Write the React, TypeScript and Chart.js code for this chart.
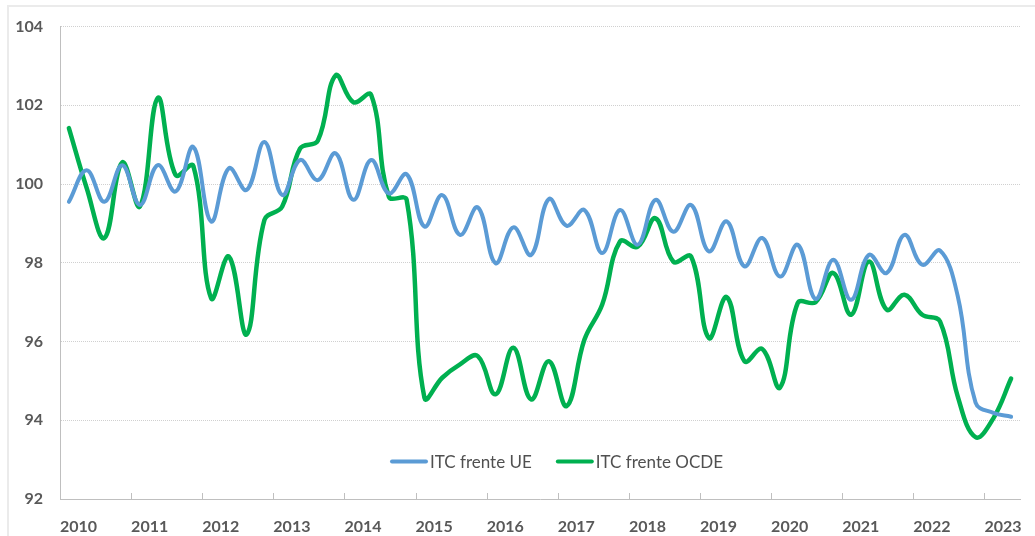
import React, { useEffect, useRef } from 'react';
import { Chart, registerables } from 'chart.js';

Chart.register(...registerables);

// Year labels (one per year boundary on the x axis)
const years = ['2010', '2011', '2012', '2013', '2014', '2015', '2016', '2017', '2018', '2019', '2020', '2021', '2022', '2023'];

// Quarterly values, 2010 T1 .. 2023 T2
const itcUE = [
  99.55, 100.35, 99.55, 100.48,
  99.47, 100.48, 99.81, 100.94,
  99.05, 100.40, 99.85, 101.07,
  99.72, 100.61, 100.10, 100.78,
  99.60, 100.61, 99.76, 100.25,
  98.92, 99.72, 98.71, 99.41,
  97.99, 98.90, 98.20, 99.62,
  98.94, 99.34, 98.25, 99.34,
  98.46, 99.60, 98.79, 99.47,
  98.29, 99.05, 97.91, 98.63,
  97.65, 98.46, 97.08, 98.08,
  97.06, 98.20, 97.74, 98.71,
  97.95, 98.31, 97.15, 94.45,
  94.19, 94.09,
];

const itcOCDE = [
  101.42, 99.90, 98.63, 100.55,
  99.43, 102.19, 100.23, 100.46,
  97.10, 98.16, 96.18, 99.09,
  99.43, 100.90, 101.10, 102.76,
  102.08, 102.27, 99.68, 99.60,
  94.57, 95.08, 95.42, 95.63,
  94.66, 95.84, 94.53, 95.50,
  94.36, 96.05, 96.94, 98.54,
  98.41, 99.13, 98.03, 98.16,
  96.09, 97.13, 95.50, 95.81,
  94.83, 96.98, 97.00, 97.74,
  96.68, 98.03, 96.81, 97.19,
  96.68, 96.51, 94.60, 93.57,
  94.05, 95.06,
];

const seriesNames = ['ITC frente UE', 'ITC frente OCDE'];
const seriesColors = ['#5b9bd5', '#00b050'];
const yMin = 92;
const yMax = 104;
const yStep = 2;
const quartersPerYear = 4;

const FONT = 'Lato, "Open Sans", "DejaVu Sans", sans-serif';
const TEXT = '#595959';
const AXIS = '#bfbfbf';

const insideTicks = {
  id: 'insideTicks',
  beforeDatasetsDraw(chart: any) {
    const xs = chart.scales.x;
    const { ctx, chartArea } = chart;
    ctx.save();
    ctx.strokeStyle = AXIS;
    ctx.lineWidth = 1;
    xs.ticks.forEach((t: any) => {
      if (t.value === 0) return;
      const px = Math.round(xs.getPixelForValue(t.value)) + 0.5;
      ctx.beginPath();
      ctx.moveTo(px, chartArea.bottom);
      ctx.lineTo(px, chartArea.bottom - 6);
      ctx.stroke();
    });
    ctx.restore();
  },
};

const inlineLegend = {
  id: 'inlineLegend',
  afterDatasetsDraw(chart: any) {
    const { ctx, chartArea } = chart;
    let x = chartArea.left + 330;
    const y = chartArea.top + 435;
    ctx.save();
    ctx.font = `17px ${FONT}`;
    ctx.textBaseline = 'middle';
    ctx.textAlign = 'left';
    chart.data.datasets.forEach((ds: any) => {
      ctx.strokeStyle = ds.borderColor;
      ctx.lineWidth = 4;
      ctx.lineCap = 'round';
      ctx.beginPath();
      ctx.moveTo(x + 2, y);
      ctx.lineTo(x + 36, y);
      ctx.stroke();
      x += 40;
      ctx.fillStyle = '#505050';
      ctx.fillText(ds.label, x, y + 1);
      x += ctx.measureText(ds.label).width + 24;
    });
    ctx.restore();
  },
};

export default function App() {
  const ref = useRef<HTMLCanvasElement | null>(null);

  useEffect(() => {
    if (!ref.current) return;
    const mk = (vals: number[]) => vals.map((v, i) => ({ x: i + 0.5, y: v }));
    const chart = new Chart(ref.current, {
      type: 'line',
      data: {
        datasets: [
          {
            label: seriesNames[0],
            data: mk(itcUE),
            borderColor: seriesColors[0],
            backgroundColor: seriesColors[0],
            borderWidth: 4,
            pointRadius: 0,
            tension: 0.4,
            borderJoinStyle: 'round',
            borderCapStyle: 'round',
            fill: false,
          },
          {
            label: seriesNames[1],
            data: mk(itcOCDE),
            borderColor: seriesColors[1],
            backgroundColor: seriesColors[1],
            borderWidth: 4.5,
            pointRadius: 0,
            tension: 0.4,
            borderJoinStyle: 'round',
            borderCapStyle: 'round',
            fill: false,
          },
        ],
      },
      options: {
        animation: false,
        responsive: false,
        events: [],
        layout: { padding: { left: 0, top: 26.5, right: 15, bottom: 0 } },
        plugins: {
          legend: { display: false },
          tooltip: { enabled: false },
        },
        scales: {
          x: {
            type: 'linear',
            min: 0,
            max: itcUE.length,
            afterBuildTicks: (scale: any) => {
              scale.ticks = years.map((_, k) => ({ value: k * quartersPerYear }));
            },
            afterFit: (scale: any) => {
              scale.height = 37;
              scale.paddingLeft = 0;
              scale.paddingRight = 0;
            },
            grid: { display: false },
            border: { display: true, color: AXIS, width: 1 },
            ticks: {
              align: 'start',
              padding: 10,
              maxRotation: 0,
              autoSkip: false,
              color: TEXT,
              font: { family: FONT, size: 16, weight: 'bold' },
              callback: (value: any) => years[Math.round(Number(value) / quartersPerYear)] ?? '',
            },
          },
          y: {
            min: yMin,
            max: yMax,
            afterFit: (scale: any) => {
              scale.width = 60;
            },
            grid: { color: '#d0d0d0', lineWidth: 1, drawTicks: false },
            border: { display: true, color: AXIS, width: 1, dash: [1, 1] },
            ticks: {
              stepSize: yStep,
              padding: 17,
              color: TEXT,
              font: { family: FONT, size: 16, weight: 'bold' },
            },
          },
        },
      },
      plugins: [insideTicks, inlineLegend],
    } as any);
    return () => chart.destroy();
  }, []);

  return (
    <div style={{ position: 'fixed', left: 0, top: 0, width: 1035, height: 536, overflow: 'hidden', background: '#fff' }}>
      <div style={{ position: 'absolute', left: 7, top: 5, width: 1200, height: 700, borderLeft: '2px solid #ebebeb', borderTop: '2px solid #ebebeb' }} />
      <canvas ref={ref} width={1035} height={536} style={{ position: 'absolute', left: 0, top: 0, display: 'block' }} />
    </div>
  );
}
